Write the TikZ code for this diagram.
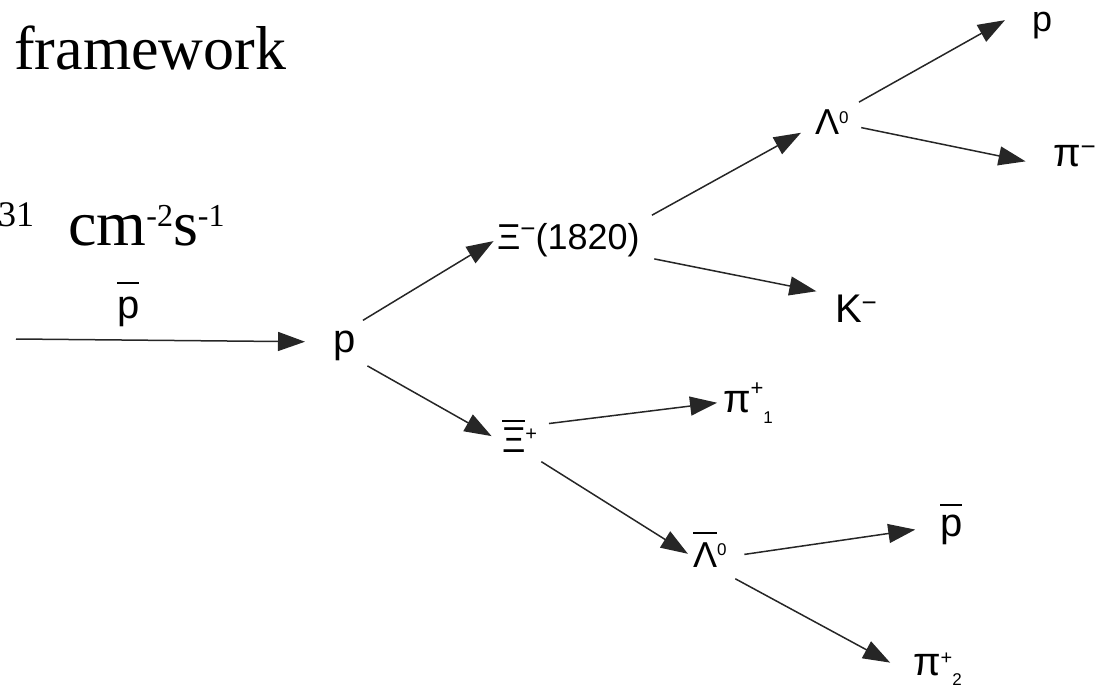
\documentclass[tikz,border=0pt]{standalone}
\usepackage{fontspec}
\setmainfont{Liberation Sans}
\newfontfamily\slidefont{Liberation Serif}
\usetikzlibrary{arrows.meta}
\newcommand{\ovl}[2][30pt]{\sbox0{#2}\rlap{\rule[#1]{\wd0}{1.8pt}}\usebox0}
\newcommand{\upmark}[3]{\raisebox{#1}{\fontsize{#2}{#2}\selectfont #3}}

\begin{document}
\begin{tikzpicture}[x=1pt,y=-1pt,
  lbl/.style={anchor=base west,inner sep=0pt,outer sep=0pt,text height=27pt,text depth=7pt,
    font=\fontsize{36}{40}\selectfont},
  big/.style={font=\fontsize{40}{44}\selectfont},
  arr/.style={-{Triangle[length=27pt,width=19pt]},line width=1.5pt,draw=black!85}]
  \useasboundingbox (0,0) rectangle (1103,687);
  \clip (0,0) rectangle (1103,687);
  % slide text
  \node[anchor=base west,inner sep=0pt,font=\slidefont\fontsize{62}{70}\selectfont] (fw) at (14,70) {framework};
  \node[anchor=base west,inner sep=0pt,font=\slidefont\fontsize{64}{70}\selectfont] (lumi) at (-2,246)
    {\upmark{19pt}{36}{31}\hspace{34pt}cm\upmark{19pt}{32}{-2}s\upmark{19pt}{32}{-1}};
  % beam and target
  \coordinate (beam) at (16,339);
  \node[lbl,big] (pbarin) at (117,318) {\ovl[34pt]{p}};
  \node[lbl,big] (p) at (333,352) {p};
  % upper branch
  \node[lbl] (xim) at (497,249) {Ξ\upmark{11pt}{26}{−}(1820)};
  \node[lbl] (lam) at (815,135) {Λ\upmark{11pt}{17}{0}};
  \node[lbl] (pout) at (1032,32) {p};
  \node[lbl,big] (pim) at (1053,167) {π\upmark{11pt}{26}{−}};
  \node[lbl,big] (km) at (835,322) {K\upmark{11pt}{26}{−}};
  % lower branch
  \node[lbl] (xip) at (502,452) {\ovl[30pt]{Ξ}\upmark{12pt}{20}{+}};
  \node[lbl,big] (pione) at (723,412) {π\upmark{17pt}{22}{+}\upmark{-11pt}{17}{1}};
  \node[lbl] (alam) at (693,567) {\ovl[33pt]{Λ}\upmark{12pt}{17}{0}};
  \node[lbl,big] (pbar) at (940,536) {\ovl[30pt]{p}};
  \node[lbl,big] (pitwo) at (913,675) {π\upmark{11pt}{20}{+}\upmark{-10pt}{17}{2}};
  % decays
  \draw[arr,shorten >=28pt] (beam) -- (p.west);
  \draw[arr,shorten <=9pt,shorten >=4pt] (p.north east) -- (xim.west);
  \draw[arr,shorten <=14pt,shorten >=16pt] (xim.north east) -- (lam.west);
  \draw[arr,shorten <=12pt,shorten >=31pt] (lam.north east) -- (pout.north west);
  \draw[arr,shorten <=13pt,shorten >=28pt] (lam.east) -- (pim.base west);
  \draw[arr,shorten <=15pt,shorten >=19pt] (xim.south east) -- (km.north west);
  \draw[arr,shorten <=14pt,shorten >=12pt] (p.south east) -- (xip.west);
  \draw[arr,shorten <=12pt,shorten >=6pt] (xip.north east) -- (pione.west);
  \draw[arr,shorten <=5pt,shorten >=6pt] (xip.south east) -- (alam.west);
  \draw[arr,shorten <=18pt,shorten >=25pt] (alam.east) -- (pbar.west);
  \draw[arr,shorten <=10pt,shorten >=26pt] (alam.south east) -- (pitwo.base west);
\end{tikzpicture}
\end{document}
